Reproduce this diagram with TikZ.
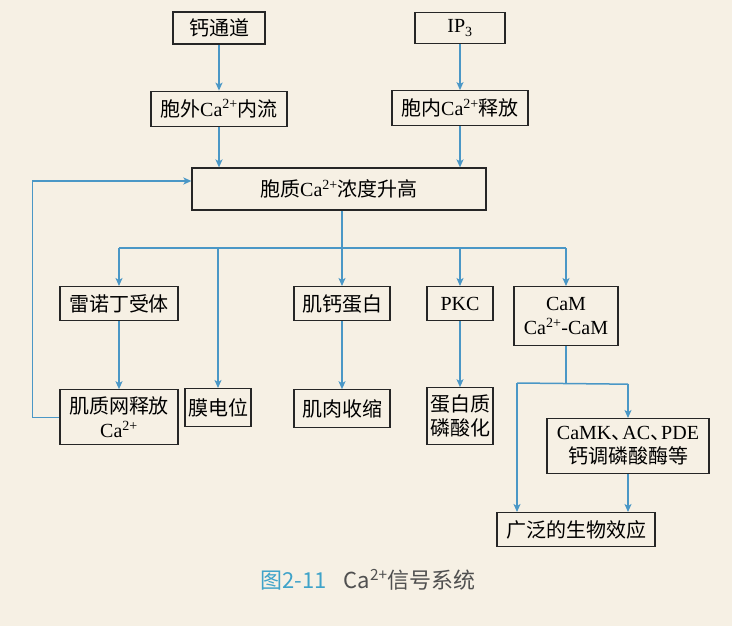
\documentclass[tikz,border=0pt]{standalone}
\usepackage{fontspec}
\setmainfont{Liberation Serif}
\newfontfamily\cjk{Noto Sans CJK SC}
\usetikzlibrary{positioning, arrows.meta}

\definecolor{bgcream}{HTML}{F6F0E4}
\definecolor{flowblue}{HTML}{4A97C6}
\definecolor{capteal}{HTML}{3FA3C9}
\definecolor{captext}{HTML}{505050}

\newcommand{\caion}{{\rmfamily Ca\textsuperscript{2+}}}
\newcommand{\dun}{\makebox[0.55em][l]{\cjk 、}}

\begin{document}
\begin{tikzpicture}[
  x=1pt, y=-1pt,
  box/.style={rectangle, draw=black!85, line width=1.2pt, align=center, inner sep=3pt, font=\cjk\fontsize{20}{24}\selectfont},
  flow/.style={-{Stealth[length=8pt, width=7pt, inset=2pt]}, draw=flowblue, line width=1.5pt},
  link/.style={draw=flowblue, line width=1.5pt},
  node distance=46pt
]

\fill[bgcream] (0,0) rectangle (732,626);
\useasboundingbox (0,0) rectangle (732,626);

% ======================
% SOURCES
% ======================
\node[box, minimum width=92pt, minimum height=32pt] (ca_channel) at (219,28) {钙通道};
\node[box, minimum width=90pt, minimum height=31pt] (ip3) at (460,28) {\rmfamily IP\textsubscript{3}};

\node[box, minimum width=136pt, minimum height=35pt, below=of ca_channel] (influx) {胞外\caion 内流};
\node[box, minimum width=136pt, minimum height=35pt, below=of ip3] (release) {胞内\caion 释放};

\node[box, minimum width=294pt, minimum height=42pt] (cytosol) at (339,189) {胞质\caion 浓度升高};

% ======================
% TARGETS
% ======================
\node[box, minimum width=118pt, minimum height=34pt, anchor=north] (ryanodine) at (119,286) {雷诺丁受体};
\node[box, minimum width=96pt, minimum height=34pt, anchor=north] (troponin) at (342,286) {肌钙蛋白};
\node[box, minimum width=66pt, minimum height=34pt, anchor=north] (pkc) at (460,286) {\rmfamily PKC};
\node[box, minimum width=104pt, minimum height=59pt, anchor=north] (cam) at (566,286) {{\rmfamily CaM}\\\caion{\rmfamily -CaM}};

% ======================
% EFFECTS
% ======================
\node[box, minimum width=118pt, minimum height=55pt, below=68pt of ryanodine] (sr_release) {肌质网释放\\\caion};
\node[box, minimum width=66pt, minimum height=38pt, anchor=north] (potential) at (218,388) {膜电位};
\node[box, minimum width=96pt, minimum height=38pt, below=68pt of troponin] (contraction) {肌肉收缩};
\node[box, minimum width=66pt, minimum height=57pt, below=66pt of pkc] (phospho) {蛋白质\\磷酸化};
\node[box, minimum width=162pt, minimum height=55pt, anchor=north] (camk) at (628,418) {{\rmfamily CaMK\dun AC\dun PDE}\\钙调磷酸酶等};
\node[box, minimum width=158pt, minimum height=34pt, anchor=north] (effect) at (576,512) {广泛的生物效应};

\node[font=\cjk\fontsize{22}{26}\selectfont, text=captext] (caption) at (368,580) {\textcolor{capteal}{图2-11}\hspace{17pt}Ca\textsuperscript{2+}信号系统};

% ======================
% CONNECTIONS
% ======================
\draw[flow] (ca_channel) -- (influx);
\draw[flow] (ip3) -- (release);
\draw[flow] (influx.south) -- (influx.south |- cytosol.north);
\draw[flow] (release.south) -- (release.south |- cytosol.north);

\coordinate (bus) at (342,248);
\draw[link] (bus -| ryanodine) -- (bus -| cam);
\draw[flow] (troponin |- cytosol.south) -- (troponin);
\draw[flow] (bus -| ryanodine) -- (ryanodine);
\draw[flow] (bus -| potential) -- (potential);
\draw[flow] (bus -| pkc) -- (pkc);
\draw[flow] (bus -| cam) -- (cam);

\draw[flow] (ryanodine) -- (sr_release);
\draw[flow] (troponin) -- (contraction);
\draw[flow] (pkc) -- (phospho);
\draw[flow] (sr_release.west) -- ++(-27,0) |- ([yshift=8pt]cytosol.west);

\draw[link] (cam.south) -- ++(0,38) coordinate (camfork);
\coordinate (leftdrop) at (517,383);
\draw[link] (leftdrop) -- (camfork -| camk);
\draw[flow] (camfork -| camk) -- (camk);
\draw[flow] (leftdrop) -- (leftdrop |- effect.north);
\draw[flow] (camk) -- (camk |- effect.north);

\end{tikzpicture}
\end{document}
